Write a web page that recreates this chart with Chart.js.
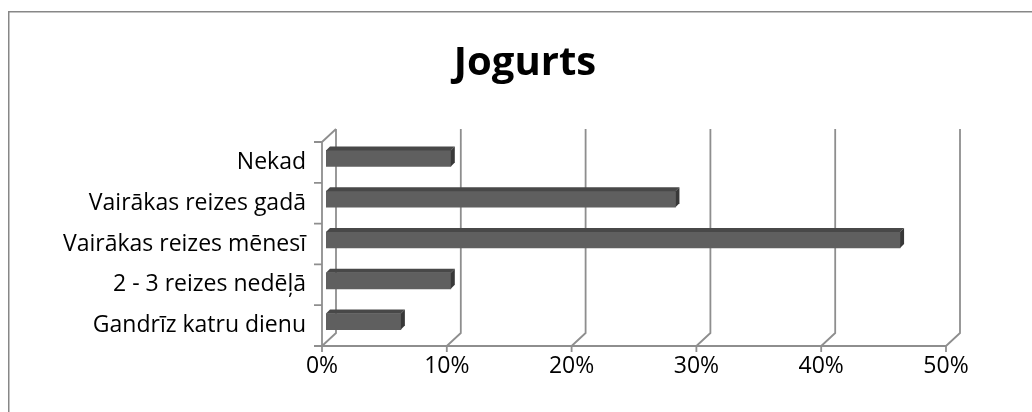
<!doctype html>
<html lang="lv">
<head>
    <meta charset="utf-8">
    <title>Jogurts</title>
    <script src="https://cdn.jsdelivr.net/npm/chart.js"></script>
    <style>
        html, body { margin: 0; padding: 0; background: #fff; }
        .wrap { width: 1032px; height: 412px; }
    </style>
</head>
<body>
    <div class="wrap">
        <canvas id="jogurtsChart" width="1032" height="412"></canvas>
    </div>
    <script>
        // Atbilžu varianti (no augšas uz leju) un to daļa procentos
        const categories = ['Nekad', 'Vairākas reizes gadā', 'Vairākas reizes mēnesī', '2 - 3 reizes nedēļā', 'Gandrīz katru dienu'];
        const shares = [10, 28, 46, 10, 6];
        const axisTicks = [0, 10, 20, 30, 40, 50];

        const DEPTH_X = 14, DEPTH_Y = -13;   // wall depth
        const BAR_OFF = 4;                   // bar position inside the depth
        const GRID = '#8e8e8e';

        // 3d look: walls, gridlines, bar top/end faces
        const pseudo3d = {
            id: 'pseudo3d',
            beforeDraw(chart) {
                const ctx = chart.ctx;
                ctx.save();
                ctx.fillStyle = '#fff';
                ctx.fillRect(0, 0, chart.width, chart.height);
                ctx.strokeStyle = '#878787';
                ctx.lineWidth = 1.5;
                ctx.strokeRect(8.75, 11.75, 1200, 600);
                ctx.restore();
            },
            beforeDatasetsDraw(chart) {
                const ctx = chart.ctx;
                const xs = chart.scales.x, ys = chart.scales.y;
                const top = chart.chartArea.top, bottom = chart.chartArea.bottom, left = chart.chartArea.left;
                ctx.save();
                ctx.strokeStyle = GRID;
                ctx.lineWidth = 1.8;
                ctx.beginPath();
                // vertical gridlines on the back wall + floor diagonals + tick marks
                axisTicks.forEach(v => {
                    const x = xs.getPixelForValue(v);
                    ctx.moveTo(x + DEPTH_X, top + DEPTH_Y);
                    ctx.lineTo(x + DEPTH_X, bottom + DEPTH_Y);
                    ctx.lineTo(x, bottom);
                    ctx.moveTo(x, bottom);
                    ctx.lineTo(x, bottom + 6);
                });
                // left wall
                ctx.moveTo(left, bottom + 6);
                ctx.lineTo(left, top);
                ctx.lineTo(left + DEPTH_X, top + DEPTH_Y);
                // floor front edge
                ctx.moveTo(left - 8, bottom);
                ctx.lineTo(xs.getPixelForValue(axisTicks[axisTicks.length - 1]), bottom);
                // category tick marks
                for (let i = 0; i <= categories.length; i++) {
                    const y = ys.getPixelForValue(i - 0.5);
                    ctx.moveTo(left - 8, y);
                    ctx.lineTo(left, y);
                }
                ctx.stroke();
                ctx.restore();

                ctx.save();
                ctx.translate(BAR_OFF, -BAR_OFF);
            },
            afterDatasetsDraw(chart) {
                const ctx = chart.ctx;
                const meta = chart.getDatasetMeta(0);
                meta.data.forEach(bar => {
                    const p = bar.getProps(['x', 'y', 'base', 'height'], true);
                    const t = p.y - p.height / 2, b = p.y + p.height / 2;
                    const d = BAR_OFF;
                    // top face
                    ctx.fillStyle = '#484848';
                    ctx.beginPath();
                    ctx.moveTo(p.base, t);
                    ctx.lineTo(p.x, t);
                    ctx.lineTo(p.x + d, t - d);
                    ctx.lineTo(p.base + d, t - d);
                    ctx.closePath();
                    ctx.fill();
                    // end face
                    ctx.fillStyle = '#383838';
                    ctx.beginPath();
                    ctx.moveTo(p.x, t);
                    ctx.lineTo(p.x + d, t - d);
                    ctx.lineTo(p.x + d, b - d);
                    ctx.lineTo(p.x, b);
                    ctx.closePath();
                    ctx.fill();
                });
                ctx.restore();
            }
        };

        const ctx = document.getElementById('jogurtsChart').getContext('2d');
        new Chart(ctx, {
            type: 'bar',
            data: {
                labels: categories,
                datasets: [{
                    data: shares,
                    backgroundColor: '#5f5f5f',
                    borderWidth: 0,
                    barThickness: 16
                }]
            },
            options: {
                indexAxis: 'y',
                responsive: false,
                animation: false,
                layout: { padding: { left: 18, right: 0, top: 0, bottom: 0 } },
                scales: {
                    x: {
                        min: 0,
                        max: 50,
                        afterBuildTicks: s => { s.ticks = axisTicks.map(v => ({ value: v })); },
                        afterFit: s => { s.height = 66; },
                        grid: { display: false, drawTicks: false },
                        border: { display: false },
                        ticks: {
                            padding: 7,
                            color: '#000',
                            font: { family: 'Open Sans', size: 23 },
                            callback: v => v + '%'
                        }
                    },
                    y: {
                        afterFit: s => { s.width = 304; },
                        grid: { display: false, drawTicks: false },
                        border: { display: false },
                        ticks: {
                            padding: 16,
                            color: '#000',
                            font: { family: 'Open Sans', size: 23 }
                        }
                    },
                    // empty right-hand strip, keeps the plot narrower than the title area
                    yRight: {
                        type: 'category',
                        position: 'right',
                        afterFit: s => { s.width = 86; },
                        grid: { display: false, drawTicks: false },
                        border: { display: false },
                        ticks: { display: false }
                    }
                },
                plugins: {
                    legend: { display: false },
                    tooltip: { enabled: false },
                    title: {
                        display: true,
                        text: 'Jogurts',
                        color: '#000',
                        font: { family: 'Open Sans', size: 40, weight: 'bold', lineHeight: 1.2 },
                        padding: { top: 40, bottom: 54 }
                    }
                }
            },
            plugins: [pseudo3d]
        });
    </script>
</body>
</html>
